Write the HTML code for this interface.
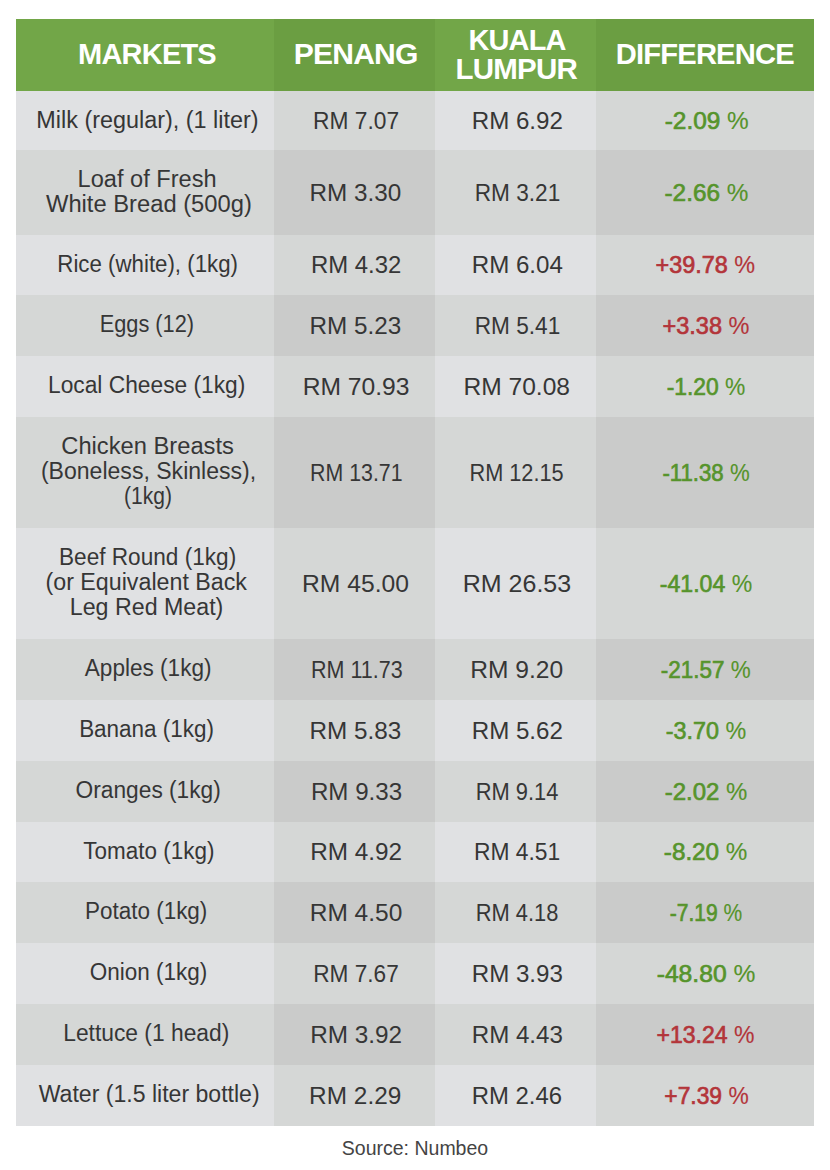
<!DOCTYPE html>
<html><head><meta charset="utf-8"><style>
html,body{margin:0;padding:0;background:#fff;}
body{width:830px;height:1170px;position:relative;overflow:hidden;font-family:"Liberation Sans",sans-serif;}
.c{position:absolute;display:flex;flex-direction:column;align-items:center;justify-content:center;text-align:center;box-sizing:border-box;}
.c span{display:block;position:relative;white-space:pre;}
.h{color:#fff;font-weight:bold;font-size:29px;line-height:29.5px;letter-spacing:-0.8px;}
.t{color:#363636;font-size:23px;line-height:25px;}
.t span{top:-1px;}
.n{color:#363636;font-size:24.5px;line-height:25px;}
.n span{top:-0.5px;}
.d{font-size:24.5px;line-height:25px;-webkit-text-stroke:0.7px currentColor;}
.d span{top:-0.5px;}
.g{color:#56942c;}
.r{color:#b3353a;}
.src{position:absolute;left:0;width:830px;top:1136px;text-align:center;font-size:19.5px;line-height:24px;color:#444;}
</style></head><body>

<div class="c h" style="left:16px;top:19px;width:258px;height:72px;background:#72a648"><span style="transform:translateX(2.00px) scaleX(1.0000)">MARKETS</span></div>
<div class="c h" style="left:274px;top:19px;width:161px;height:72px;background:#6b9e42"><span style="transform:translateX(1.05px) scaleX(1.0368)">PENANG</span></div>
<div class="c h" style="left:435px;top:19px;width:161px;height:72px;background:#72a648"><span style="transform:translateX(1.30px) scaleX(0.9979)">KUALA</span><span style="transform:translateX(0.65px) scaleX(1.0178)">LUMPUR</span></div>
<div class="c h" style="left:596px;top:19px;width:218px;height:72px;background:#6b9e42"><span style="transform:translateX(0.15px) scaleX(1.0051)">DIFFERENCE</span></div>
<div class="c t" style="left:16px;top:91px;width:258px;height:59px;background:#e0e1e3"><span style="font-size:23.5px;top:0px;transform:translateX(2.80px) scaleX(0.9955)">Milk (regular), (1 liter)</span></div>
<div class="c n" style="left:274px;top:91px;width:161px;height:59px;background:#d5d7d6"><span style="transform:translateX(1.75px) scaleX(0.9286)">RM 7.07</span></div>
<div class="c n" style="left:435px;top:91px;width:161px;height:59px;background:#e0e1e3"><span style="transform:translateX(2.00px) scaleX(0.9846)">RM 6.92</span></div>
<div class="c d g" style="left:596px;top:91px;width:218px;height:59px;background:#d5d7d6"><span style="transform:translateX(1.50px) scaleX(0.9952)">-2.09 <i style="font-style:normal;-webkit-text-stroke:0.15px currentColor">%</i></span></div>
<div class="c t" style="left:16px;top:150px;width:258px;height:85px;background:#d5d7d6"><span style="transform:translateX(2.30px) scaleX(1.0256)">Loaf of Fresh</span><span style="transform:translateX(4.20px) scaleX(1.0322)">White Bread (500g)</span></div>
<div class="c n" style="left:274px;top:150px;width:161px;height:85px;background:#cacbca"><span style="transform:translateX(1.10px) scaleX(0.9912)">RM 3.30</span></div>
<div class="c n" style="left:435px;top:150px;width:161px;height:85px;background:#d5d7d6"><span style="transform:translateX(2.15px) scaleX(0.9242)">RM 3.21</span></div>
<div class="c d g" style="left:596px;top:150px;width:218px;height:85px;background:#cacbca"><span style="transform:translateX(1.20px) scaleX(0.9929)">-2.66 <i style="font-style:normal;-webkit-text-stroke:0.15px currentColor">%</i></span></div>
<div class="c t" style="left:16px;top:235px;width:258px;height:60px;background:#e0e1e3"><span style="transform:translateX(2.35px) scaleX(0.9679)">Rice (white), (1kg)</span></div>
<div class="c n" style="left:274px;top:235px;width:161px;height:60px;background:#d5d7d6"><span style="transform:translateX(1.80px) scaleX(0.9758)">RM 4.32</span></div>
<div class="c n" style="left:435px;top:235px;width:161px;height:60px;background:#e0e1e3"><span style="transform:translateX(2.00px) scaleX(0.9846)">RM 6.04</span></div>
<div class="c d r" style="left:596px;top:235px;width:218px;height:60px;background:#d5d7d6"><span style="transform:translateX(0.20px) scaleX(0.9553)">+39.78 <i style="font-style:normal;-webkit-text-stroke:0.15px currentColor">%</i></span></div>
<div class="c t" style="left:16px;top:295px;width:258px;height:61px;background:#d5d7d6"><span style="transform:translateX(2.00px) scaleX(0.9464)">Eggs (12)</span></div>
<div class="c n" style="left:274px;top:295px;width:161px;height:61px;background:#cacbca"><span style="transform:translateX(1.10px) scaleX(0.9912)">RM 5.23</span></div>
<div class="c n" style="left:435px;top:295px;width:161px;height:61px;background:#d5d7d6"><span style="transform:translateX(2.15px) scaleX(0.9242)">RM 5.41</span></div>
<div class="c d r" style="left:596px;top:295px;width:218px;height:61px;background:#cacbca"><span style="transform:translateX(0.70px) scaleX(0.9600)">+3.38 <i style="font-style:normal;-webkit-text-stroke:0.15px currentColor">%</i></span></div>
<div class="c t" style="left:16px;top:356px;width:258px;height:61px;background:#e0e1e3"><span style="transform:translateX(1.95px) scaleX(0.9893)">Local Cheese (1kg)</span></div>
<div class="c n" style="left:274px;top:356px;width:161px;height:61px;background:#d5d7d6"><span style="transform:translateX(2.00px) scaleX(1.0058)">RM 70.93</span></div>
<div class="c n" style="left:435px;top:356px;width:161px;height:61px;background:#e0e1e3"><span style="transform:translateX(1.65px) scaleX(1.0029)">RM 70.08</span></div>
<div class="c d g" style="left:596px;top:356px;width:218px;height:61px;background:#d5d7d6"><span style="transform:translateX(0.85px) scaleX(0.9321)">-1.20 <i style="font-style:normal;-webkit-text-stroke:0.15px currentColor">%</i></span></div>
<div class="c t" style="left:16px;top:417px;width:258px;height:111px;background:#d5d7d6"><span style="transform:translateX(2.85px) scaleX(1.0307)">Chicken Breasts</span><span style="transform:translateX(3.15px) scaleX(1.0024)">(Boneless, Skinless),</span><span style="transform:translateX(2.85px) scaleX(0.9140)">(1kg)</span></div>
<div class="c n" style="left:274px;top:417px;width:161px;height:111px;background:#cacbca"><span style="transform:translateX(2.20px) scaleX(0.8699)">RM 13.71</span></div>
<div class="c n" style="left:435px;top:417px;width:161px;height:111px;background:#d5d7d6"><span style="transform:translateX(1.45px) scaleX(0.8864)">RM 12.15</span></div>
<div class="c d g" style="left:596px;top:417px;width:218px;height:111px;background:#cacbca"><span style="transform:translateX(0.90px) scaleX(0.9062)">-11.38 <i style="font-style:normal;-webkit-text-stroke:0.15px currentColor">%</i></span></div>
<div class="c t" style="left:16px;top:528px;width:258px;height:111px;background:#e0e1e3"><span style="transform:translateX(2.45px) scaleX(0.9826)">Beef Round (1kg)</span><span style="transform:translateX(1.50px) scaleX(1.0101)">(or Equivalent Back</span><span style="transform:translateX(1.50px) scaleX(1.0094)">Leg Red Meat)</span></div>
<div class="c n" style="left:274px;top:528px;width:161px;height:111px;background:#d5d7d6"><span style="transform:translateX(1.35px) scaleX(1.0067)">RM 45.00</span></div>
<div class="c n" style="left:435px;top:528px;width:161px;height:111px;background:#e0e1e3"><span style="transform:translateX(1.85px) scaleX(1.0204)">RM 26.53</span></div>
<div class="c d g" style="left:596px;top:528px;width:218px;height:111px;background:#d5d7d6"><span style="transform:translateX(0.95px) scaleX(0.9418)">-41.04 <i style="font-style:normal;-webkit-text-stroke:0.15px currentColor">%</i></span></div>
<div class="c t" style="left:16px;top:639px;width:258px;height:61px;background:#d5d7d6"><span style="transform:translateX(3.60px) scaleX(0.9814)">Apples (1kg)</span></div>
<div class="c n" style="left:274px;top:639px;width:161px;height:61px;background:#cacbca"><span style="transform:translateX(2.70px) scaleX(0.8784)">RM 11.73</span></div>
<div class="c n" style="left:435px;top:639px;width:161px;height:61px;background:#d5d7d6"><span style="transform:translateX(1.45px) scaleX(1.0033)">RM 9.20</span></div>
<div class="c d g" style="left:596px;top:639px;width:218px;height:61px;background:#cacbca"><span style="transform:translateX(0.70px) scaleX(0.9163)">-21.57 <i style="font-style:normal;-webkit-text-stroke:0.15px currentColor">%</i></span></div>
<div class="c t" style="left:16px;top:700px;width:258px;height:61px;background:#e0e1e3"><span style="transform:translateX(1.50px) scaleX(0.9763)">Banana (1kg)</span></div>
<div class="c n" style="left:274px;top:700px;width:161px;height:61px;background:#d5d7d6"><span style="transform:translateX(1.10px) scaleX(0.9912)">RM 5.83</span></div>
<div class="c n" style="left:435px;top:700px;width:161px;height:61px;background:#e0e1e3"><span style="transform:translateX(2.00px) scaleX(0.9846)">RM 5.62</span></div>
<div class="c d g" style="left:596px;top:700px;width:218px;height:61px;background:#d5d7d6"><span style="transform:translateX(0.70px) scaleX(0.9524)">-3.70 <i style="font-style:normal;-webkit-text-stroke:0.15px currentColor">%</i></span></div>
<div class="c t" style="left:16px;top:761px;width:258px;height:61px;background:#d5d7d6"><span style="transform:translateX(3.70px) scaleX(0.9876)">Oranges (1kg)</span></div>
<div class="c n" style="left:274px;top:761px;width:161px;height:61px;background:#cacbca"><span style="transform:translateX(2.20px) scaleX(0.9846)">RM 9.33</span></div>
<div class="c n" style="left:435px;top:761px;width:161px;height:61px;background:#d5d7d6"><span style="transform:translateX(1.80px) scaleX(0.8923)">RM 9.14</span></div>
<div class="c d g" style="left:596px;top:761px;width:218px;height:61px;background:#cacbca"><span style="transform:translateX(0.90px) scaleX(0.9786)">-2.02 <i style="font-style:normal;-webkit-text-stroke:0.15px currentColor">%</i></span></div>
<div class="c t" style="left:16px;top:822px;width:258px;height:60px;background:#e0e1e3"><span style="transform:translateX(3.75px) scaleX(0.9767)">Tomato (1kg)</span></div>
<div class="c n" style="left:274px;top:822px;width:161px;height:60px;background:#d5d7d6"><span style="transform:translateX(1.85px) scaleX(0.9923)">RM 4.92</span></div>
<div class="c n" style="left:435px;top:822px;width:161px;height:60px;background:#e0e1e3"><span style="transform:translateX(1.80px) scaleX(0.9319)">RM 4.51</span></div>
<div class="c d g" style="left:596px;top:822px;width:218px;height:60px;background:#d5d7d6"><span style="transform:translateX(0.40px) scaleX(0.9905)">-8.20 <i style="font-style:normal;-webkit-text-stroke:0.15px currentColor">%</i></span></div>
<div class="c t" style="left:16px;top:882px;width:258px;height:61px;background:#d5d7d6"><span style="transform:translateX(1.50px) scaleX(0.9772)">Potato (1kg)</span></div>
<div class="c n" style="left:274px;top:882px;width:161px;height:61px;background:#cacbca"><span style="transform:translateX(1.50px) scaleX(1.0000)">RM 4.50</span></div>
<div class="c n" style="left:435px;top:882px;width:161px;height:61px;background:#d5d7d6"><span style="transform:translateX(1.80px) scaleX(0.8923)">RM 4.18</span></div>
<div class="c d g" style="left:596px;top:882px;width:218px;height:61px;background:#cacbca"><span style="transform:translateX(0.85px) scaleX(0.8583)">-7.19 <i style="font-style:normal;-webkit-text-stroke:0.15px currentColor">%</i></span></div>
<div class="c t" style="left:16px;top:943px;width:258px;height:61px;background:#e0e1e3"><span style="transform:translateX(3.50px) scaleX(0.9780)">Onion (1kg)</span></div>
<div class="c n" style="left:274px;top:943px;width:161px;height:61px;background:#d5d7d6"><span style="transform:translateX(1.65px) scaleX(0.9242)">RM 7.67</span></div>
<div class="c n" style="left:435px;top:943px;width:161px;height:61px;background:#e0e1e3"><span style="transform:translateX(2.00px) scaleX(0.9846)">RM 3.93</span></div>
<div class="c d g" style="left:596px;top:943px;width:218px;height:61px;background:#d5d7d6"><span style="transform:translateX(1.00px) scaleX(1.0061)">-48.80 <i style="font-style:normal;-webkit-text-stroke:0.15px currentColor">%</i></span></div>
<div class="c t" style="left:16px;top:1004px;width:258px;height:61px;background:#d5d7d6"><span style="transform:translateX(1.50px) scaleX(0.9915)">Lettuce (1 head)</span></div>
<div class="c n" style="left:274px;top:1004px;width:161px;height:61px;background:#cacbca"><span style="transform:translateX(1.85px) scaleX(0.9923)">RM 3.92</span></div>
<div class="c n" style="left:435px;top:1004px;width:161px;height:61px;background:#d5d7d6"><span style="transform:translateX(2.00px) scaleX(0.9846)">RM 4.43</span></div>
<div class="c d r" style="left:596px;top:1004px;width:218px;height:61px;background:#cacbca"><span style="transform:translateX(0.40px) scaleX(0.9398)">+13.24 <i style="font-style:normal;-webkit-text-stroke:0.15px currentColor">%</i></span></div>
<div class="c t" style="left:16px;top:1065px;width:258px;height:61px;background:#e0e1e3"><span style="transform:translateX(4.00px) scaleX(1.0027)">Water (1.5 liter bottle)</span></div>
<div class="c n" style="left:274px;top:1065px;width:161px;height:61px;background:#d5d7d6"><span style="transform:translateX(0.90px) scaleX(0.9956)">RM 2.29</span></div>
<div class="c n" style="left:435px;top:1065px;width:161px;height:61px;background:#e0e1e3"><span style="transform:translateX(1.60px) scaleX(0.9758)">RM 2.46</span></div>
<div class="c d r" style="left:596px;top:1065px;width:218px;height:61px;background:#d5d7d6"><span style="transform:translateX(1.20px) scaleX(0.9311)">+7.39 <i style="font-style:normal;-webkit-text-stroke:0.15px currentColor">%</i></span></div>
<div class="src">Source: Numbeo</div>
</body></html>
